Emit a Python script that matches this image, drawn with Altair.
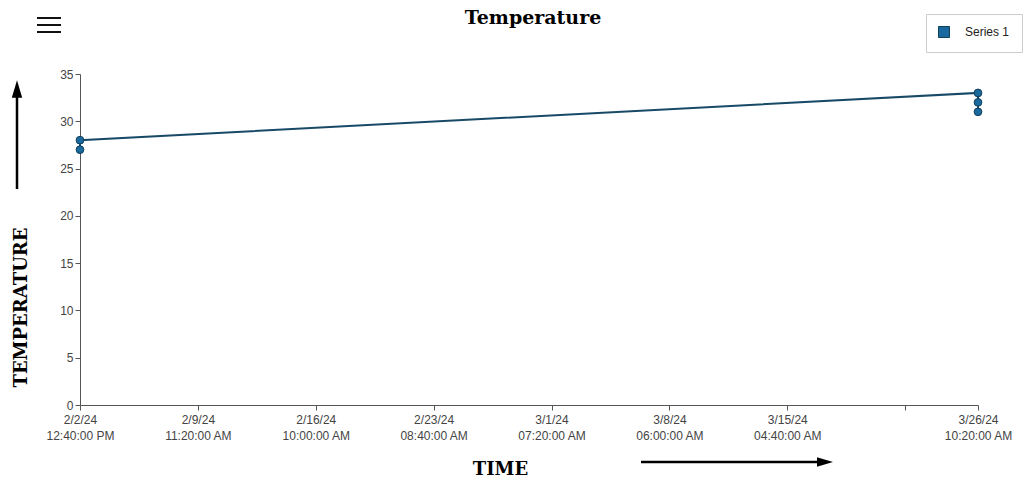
import altair as alt
import pandas as pd

# ---- data ----
times = [
    "2024-02-02T12:40:00Z", "2024-02-02T12:40:00Z",
    "2024-03-26T10:20:00Z", "2024-03-26T10:20:00Z", "2024-03-26T10:20:00Z",
]
temps = [27, 28, 33, 32, 31]
series = ["Series 1"] * 5
order = [0, 1, 2, 3, 4]

tick_times = [
    (2024, 2, 2, 12, 40), (2024, 2, 9, 11, 20), (2024, 2, 16, 10, 0),
    (2024, 2, 23, 8, 40), (2024, 3, 1, 7, 20), (2024, 3, 8, 6, 0),
    (2024, 3, 15, 4, 40), (2024, 3, 22, 3, 20), (2024, 3, 26, 10, 20),
]
y_ticks = [0, 5, 10, 15, 20, 25, 30, 35]

df = pd.DataFrame({"time": times, "temp": temps, "series": series, "ord": order})

def dt(t):
    return alt.DateTime(year=t[0], month=t[1], date=t[2], hours=t[3], minutes=t[4], utc=True)

tick_values = [dt(t) for t in tick_times]

label_font = "Liberation Sans"
serif = "DejaVu Serif"

x_enc = alt.X(
    "time:T",
    scale=alt.Scale(type="utc", domain=[tick_values[0], tick_values[-1]]),
    axis=alt.Axis(
        values=tick_values,
        labelExpr="utcFormat(datum.value, '%m/%d') == '03/22' ? '' : "
                  "[utcFormat(datum.value, '%-m/%-d/%y'), utcFormat(datum.value, '%I:%M:%S %p')]",
        labelFlush=False,
        labelOverlap=False,
        labelAngle=0,
        labelFont=label_font,
        labelFontSize=12,
        labelColor="#444444",
        labelLineHeight=16,
        labelPadding=4,
        tickSize=5,
        tickColor="#555555",
        domainColor="#555555",
        grid=False,
        title="TIME",
        titleFont=serif,
        titleFontSize=18,
        titleFontWeight="bold",
        titleColor="#000000",
        titleX=420,
        titleY=55,
    ),
)

y_enc = alt.Y(
    "temp:Q",
    scale=alt.Scale(domain=[0, 35], nice=False),
    axis=alt.Axis(
        values=y_ticks,
        labelFont=label_font,
        labelFontSize=12,
        labelColor="#444444",
        tickSize=5,
        tickColor="#555555",
        domainColor="#555555",
        grid=False,
        title="TEMPERATURE",
        titleFont=serif,
        titleFontSize=18,
        titleFontWeight="bold",
        titleColor="#000000",
        titleX=-50,
        titleY=233,
    ),
)

color_enc = alt.Color(
    "series:N",
    scale=alt.Scale(range=["#1b6a9e"]),
    legend=alt.Legend(
        title=None,
        orient="none",
        legendX=846,
        legendY=-60,
        symbolType="square",
        symbolSize=120,
        symbolStrokeWidth=1,
        labelFont=label_font,
        labelFontSize=12,
        labelColor="#222222",
        labelOffset=15,
        padding=12,
        strokeColor="#cccccc",
        fillColor="#ffffff",
    ),
)

line = alt.Chart(df).mark_line(color="#184a68", strokeWidth=2).encode(
    x=x_enc, y=y_enc, order="ord:Q"
)
points = alt.Chart(df).mark_circle(size=60, opacity=1, stroke="#0f3d5a", strokeWidth=1).encode(
    x=alt.X("time:T"), y=alt.Y("temp:Q"), color=color_enc
)

one = alt.Data(values=[{"a": 1}])
# decorations: arrows and menu icon
y_arrow = alt.Chart(one).mark_rule(color="#000000", strokeWidth=2.5).encode(
    x=alt.value(-63), y=alt.value(115), y2=alt.value(20)
)
y_head = alt.Chart(one).mark_point(
    shape="M-0.6,1L0,-1L0.6,1Z", filled=True, color="#000000", opacity=1, size=300
).encode(x=alt.value(-63), y=alt.value(15))
x_arrow = alt.Chart(one).mark_rule(color="#000000", strokeWidth=2.5).encode(
    x=alt.value(561), x2=alt.value(740), y=alt.value(388)
)
x_head = alt.Chart(one).mark_point(
    shape="M-1,-0.6L1,0L-1,0.6Z", filled=True, color="#000000", opacity=1, size=256
).encode(x=alt.value(745), y=alt.value(388))
menu = [
    alt.Chart(one).mark_rule(color="#111111", strokeWidth=2).encode(
        x=alt.value(-43), x2=alt.value(-19), y=alt.value(yy)
    )
    for yy in (-56, -49, -42)
]

chart = alt.layer(line, points, y_arrow, y_head, x_arrow, x_head, *menu).properties(
    width=898,
    height=331,
    autosize=alt.AutoSizeParams(type="none"),
    padding={"left": 80, "top": 74, "right": 49, "bottom": 74},
    title=alt.TitleParams(
        "Temperature",
        font=serif,
        fontSize=19,
        fontWeight="bold",
        color="#000000",
        anchor="middle",
        frame="group",
        offset=-14,
        dx=4,
    ),
).configure(background="#ffffff").configure_view(stroke=None)

chart.save("out.html", embed_options={"renderer": "svg", "actions": False})
